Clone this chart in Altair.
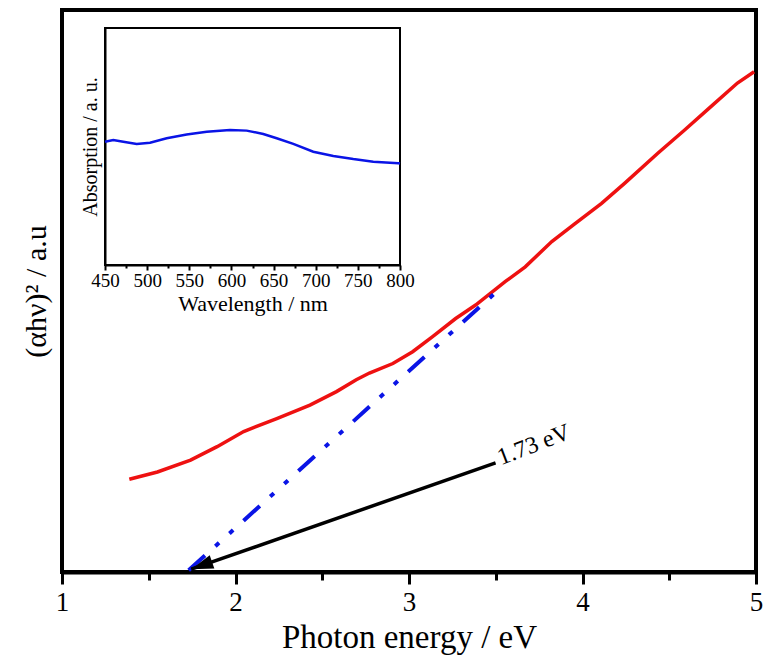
import altair as alt
import pandas as pd

FONT = "Liberation Serif"

# ---- main curve: (alpha h nu)^2 vs photon energy ----
energy = [1.388, 1.550, 1.741, 1.894, 2.047, 2.238, 2.429, 2.582, 2.696, 2.772,
          2.907, 3.021, 3.136, 3.269, 3.384, 3.556, 3.670, 3.823, 3.957, 4.110,
          4.244, 4.434, 4.587, 4.740, 4.893, 4.989]
signal = [16.5, 17.8, 19.9, 22.3, 25.0, 27.3, 29.7, 32.1, 34.2, 35.4,
          37.1, 39.2, 41.9, 45.1, 47.5, 51.7, 54.3, 58.8, 62.0, 65.6,
          69.2, 74.5, 78.6, 82.8, 87.0, 89.0]

# ---- linear extrapolation (Tauc fit) ----
fit_energy = [1.73, 3.527]
fit_signal = [0.3, 50.5]

# ---- arrow and its label ----
arrow_energy = [3.499, 1.745]
arrow_signal = [19.4, 0.5]
label_energy = [3.53]
label_signal = [19.0]
label_text = ["1.73 eV"]

# ---- inset: absorption spectrum ----
wavelength = [450, 459.8, 471.7, 487.6, 503.4, 523.2, 546.9, 570.7, 598.3, 618.1,
              637.8, 653.7, 673.4, 697.1, 720.9, 744.6, 768.3, 798.0, 800]
absorption = [52.0, 52.7, 52.0, 51.1, 51.6, 53.5, 55.1, 56.2, 57.0, 56.7,
              55.3, 53.5, 51.1, 47.8, 46.0, 44.7, 43.6, 42.9, 42.8]

main_ticks = [1, 1.5, 2, 2.5, 3, 3.5, 4, 4.5, 5]
inset_ticks = [450, 475, 500, 525, 550, 575, 600, 625, 650, 675, 700, 725, 750, 775, 800]

W, H = 694, 562
INSET_LEFT, INSET_RIGHT, INSET_TOP, INSET_BOTTOM = 43, 338, 18, 255

df_main = pd.DataFrame({"E": energy, "A": signal})
df_fit = pd.DataFrame({"E": fit_energy, "A": fit_signal})
df_arrow = pd.DataFrame({"E": arrow_energy, "A": arrow_signal})
df_head = pd.DataFrame({"E": arrow_energy[1:], "A": arrow_signal[1:]})
df_label = pd.DataFrame({"E": label_energy, "A": label_signal, "t": label_text})
df_inset = pd.DataFrame({"W": wavelength, "B": absorption})
df_frame = pd.DataFrame({"W": [450], "W2": [800], "B": [0], "B2": [100]})

xenc = alt.X("E:Q",
             scale=alt.Scale(domain=[1, 5], nice=False, zero=False),
             axis=alt.Axis(values=main_ticks, title="Photon energy / eV",
                           labelExpr="datum.value % 1 === 0 ? format(datum.value, 'd') : ''",
                           labelOverlap=False, labelFlush=False,
                           tickSize={"condition": {"test": "datum.value % 1 === 0", "value": 12}, "value": 8},
                           tickWidth=3, tickColor="black", domainWidth=4, domainColor="black",
                           labelFont=FONT, labelFontSize=27, labelColor="black", labelPadding=5,
                           titleFont=FONT, titleFontSize=33, titleFontWeight="normal",
                           titleColor="black", titlePadding=6, grid=False))
yenc = alt.Y("A:Q",
             scale=alt.Scale(domain=[0, 100], nice=False, zero=False),
             axis=alt.Axis(title="(αhν)² / a.u", ticks=False, labels=False, domain=False,
                           grid=False, titleFont=FONT, titleFontSize=30,
                           titleFontWeight="normal", titleColor="black", titlePadding=11))

red = alt.Chart(df_main).mark_line(color="#ee1111", strokeWidth=3.5).encode(x=xenc, y=yenc)
fit = alt.Chart(df_fit).mark_line(color="#0a14e6", strokeWidth=4,
                                  strokeDash=[22, 14, 5, 14, 5, 14]).encode(x=xenc, y=yenc)
arrow = alt.Chart(df_arrow).mark_line(color="black", strokeWidth=3.5).encode(x=xenc, y=yenc)
head = alt.Chart(df_head).mark_point(
    shape="M0,0 L1,-0.32 L1,0.32 Z", filled=True, size=1936, angle=340.8,
    color="black", opacity=1, strokeWidth=0).encode(x=xenc, y=yenc)
label = alt.Chart(df_label).mark_text(
    align="left", baseline="alphabetic", angle=339, font=FONT, fontSize=24,
    color="black").encode(x=xenc, y=yenc, text="t:N")

main = alt.layer(red, fit, arrow, head, label)

wenc = alt.X("W:Q",
             scale=alt.Scale(domain=[450, 800], range=[INSET_LEFT, INSET_RIGHT], nice=False, zero=False),
             axis=alt.Axis(orient="bottom", offset=-(H - INSET_BOTTOM), values=inset_ticks,
                           labelExpr="datum.value % 50 === 0 ? format(datum.value, 'd') : ''",
                           labelOverlap=False, labelFlush=False,
                           tickSize={"condition": {"test": "datum.value % 50 === 0", "value": 5}, "value": 3},
                           tickWidth=2, tickColor="black", domainWidth=2, domainColor="black",
                           labelFont=FONT, labelFontSize=19, labelColor="black", labelPadding=1,
                           title="Wavelength / nm", titleFont=FONT, titleFontSize=22,
                           titleFontWeight="normal", titleColor="black", titlePadding=3, grid=False))
benc = alt.Y("B:Q",
             scale=alt.Scale(domain=[0, 100], range=[INSET_BOTTOM, INSET_TOP], nice=False, zero=False),
             axis=alt.Axis(orient="left", offset=-INSET_LEFT, ticks=False, labels=False,
                           domain=True, domainWidth=2, domainColor="black", grid=False,
                           title="Absorption / a. u.", titleFont=FONT, titleFontSize=20,
                           titleFontWeight="normal", titleColor="black", titlePadding=5))

frame = alt.Chart(df_frame).mark_rect(fill=None, stroke="black", strokeWidth=2).encode(
    x=wenc, x2="W2:Q", y=benc, y2="B2:Q")
inset_line = alt.Chart(df_inset).mark_line(color="#0a14e6", strokeWidth=2.5).encode(x=wenc, y=benc)
inset = alt.layer(frame, inset_line)

chart = alt.layer(main, inset).resolve_scale(x="independent", y="independent").properties(
    width=W, height=H,
    autosize=alt.AutoSizeParams(type="none"),
    padding={"left": 54, "top": 2, "right": 7, "bottom": 84},
    background="white",
).configure_view(stroke="black", strokeWidth=4).configure_axis(
    labelFont=FONT, titleFont=FONT
).configure_text(font=FONT)

chart.save("out.html", embed_options={"renderer": "svg", "actions": False})
